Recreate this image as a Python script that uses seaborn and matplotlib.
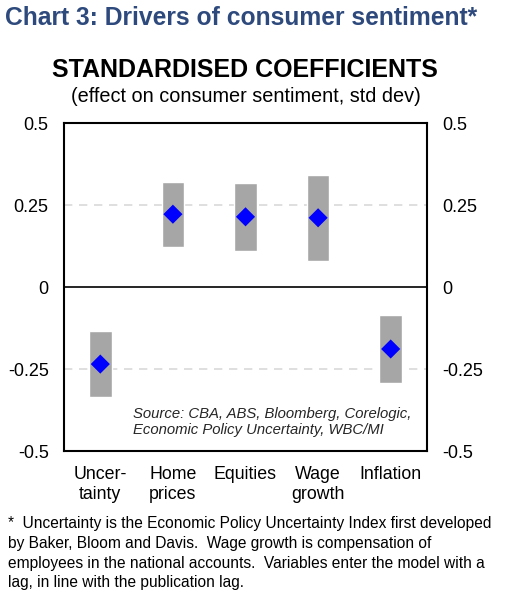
import numpy as np
import pandas as pd
import matplotlib
matplotlib.use("Agg")
import matplotlib.pyplot as plt
import matplotlib.transforms as mtransforms
import seaborn as sns

categories = ["Uncer-\ntainty", "Home\nprices", "Equities", "Wage\ngrowth", "Inflation"]
coef = [-0.235, 0.222, 0.214, 0.211, -0.189]
low = [-0.336, 0.123, 0.110, 0.079, -0.294]
high = [-0.133, 0.321, 0.317, 0.341, -0.084]
yticks = [-0.5, -0.25, 0, 0.25, 0.5]
yticklabels = ["-0.5", "-0.25", "0", "0.25", "0.5"]

sns.set_theme(style="white")
plt.rcParams['font.family'] = ['Liberation Sans', 'DejaVu Sans']

df = pd.DataFrame({"cat": categories, "coef": coef, "low": low, "high": high})
df["span"] = df["high"] - df["low"]

fig = plt.figure(figsize=(5.06, 5.92), dpi=100)
ax = fig.add_axes([64/506, 1-451/592, 363/506, 328/592])

for g in [0.25, -0.25]:
    ax.axhline(g, color="#D9D9D9", lw=1.2, ls=(0, (5, 4)), zorder=0)
ax.axhline(0, color="black", lw=1.2, zorder=1)

sns.barplot(data=df, x="cat", y="span", bottom=df["low"], color="#A6A6A6",
            width=0.31, saturation=1, ax=ax, zorder=2)
sns.scatterplot(data=df, x="cat", y="coef", marker="D", s=95, color="#0000FF",
                edgecolor="none", ax=ax, zorder=3)

ax.set_ylim(-0.5, 0.5)
ax.set_xlim(-0.5, 4.5)
ax.set_yticks(yticks)
ax.set_yticklabels(yticklabels)
ax.set_xlabel("")
ax.set_ylabel("")
ax.tick_params(axis="both", length=0, colors="black")
ax.tick_params(axis="y", labelsize=13, pad=11, labelleft=True, labelright=True)
ax.tick_params(axis="x", labelsize=12.8, pad=11)
for s in ax.spines.values():
    s.set_color("black")
    s.set_linewidth(1.5)

trans = mtransforms.blended_transform_factory(ax.transAxes, ax.transData)
ax.text(69/363, -0.411, "Source: CBA, ABS, Bloomberg, Corelogic,\nEconomic Policy Uncertainty, WBC/MI",
        transform=trans, fontsize=10.7, style="italic",
        ha="left", va="center", linespacing=1.15)

fig.text(5/506, 1-18/592, "Chart 3: Drivers of consumer sentiment*", color="#2E4A7D",
         fontsize=17.7, fontweight="bold", ha="left", va="center")
fig.text(245/506, 1-70/592, "STANDARDISED COEFFICIENTS", fontsize=18, fontweight="bold",
         ha="center", va="center", color="black")
fig.text(246/506, 1-96/592, "(effect on consumer sentiment, std dev)", fontsize=14.3,
         ha="center", va="center", color="black")

foot = ("*  Uncertainty is the Economic Policy Uncertainty Index first developed\n"
        "by Baker, Bloom and Davis.  Wage growth is compensation of\n"
        "employees in the national accounts.  Variables enter the model with a\n"
        "lag, in line with the publication lag.")
fig.text(8/506, 1-516/592, foot, fontsize=11.2, ha="left", va="top", linespacing=1.4, color="black")

fig.savefig("out.png", dpi=100)
